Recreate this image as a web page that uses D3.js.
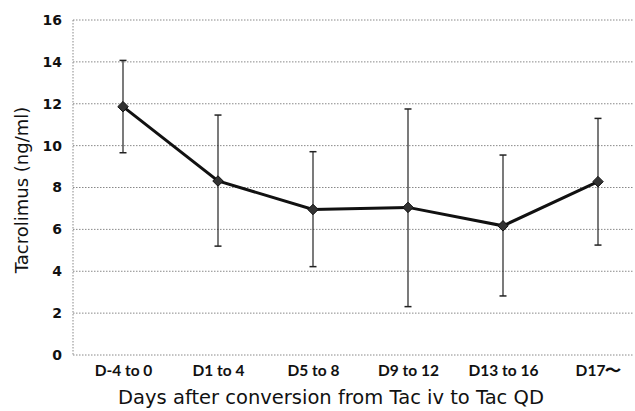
<!DOCTYPE html>
<html>
<head>
<meta charset="utf-8">
<script src="https://cdn.jsdelivr.net/npm/d3@7"></script>
<style>
  body { margin: 0; background: #fff; }
  text { font-family: Lato, "Open Sans", sans-serif; }
</style>
</head>
<body>
<div id="chart"></div>
<script>
// data
var categories = ["D-4 to 0", "D1 to 4", "D5 to 8", "D9 to 12", "D13 to 16", "D17\u301C"];
var means = [11.86, 8.31, 6.95, 7.05, 6.17, 8.28];
var upper = [14.07, 11.46, 9.71, 11.75, 9.55, 11.3];
var lower = [9.66, 5.2, 4.22, 2.31, 2.82, 5.25];
var yTicks = [0, 2, 4, 6, 8, 10, 12, 14, 16];

var W = 635, H = 411;
var margin = {top: 20, right: 0, bottom: 56, left: 73};

var svg = d3.select("#chart")
  .append("svg")
    .attr("width", W)
    .attr("height", H);

var x = d3.scalePoint()
  .domain(categories)
  .range([123, 598]);

var y = d3.scaleLinear()
  .domain([0, 16])
  .range([355, 20]);

// gridlines
svg.append("g")
  .selectAll("line")
  .data(yTicks)
  .enter()
  .append("line")
    .attr("x1", margin.left)
    .attr("x2", W - 2)
    .attr("y1", d => y(d))
    .attr("y2", d => y(d))
    .attr("stroke", "#888")
    .attr("stroke-width", 1)
    .attr("stroke-dasharray", "1.5,1.5");

// left axis line (dotted like the grid)
svg.append("line")
  .attr("x1", margin.left).attr("x2", margin.left)
  .attr("y1", y(16)).attr("y2", y(0))
  .attr("stroke", "#888")
  .attr("stroke-dasharray", "1.5,1.5");

// y tick labels
var yAxis = svg.append("g")
  .attr("transform", "translate(" + margin.left + ",0)")
  .call(d3.axisLeft(y).tickValues(yTicks).tickSize(0).tickPadding(11));
yAxis.select(".domain").remove();
yAxis.selectAll("text")
  .style("font-family", "'DejaVu Sans', sans-serif")
  .style("font-size", "14px")
  .style("font-weight", "bold")
  .attr("fill", "#111");

// x tick labels
var xAxis = svg.append("g")
  .attr("transform", "translate(0," + y(0) + ")")
  .call(d3.axisBottom(x).tickSize(0).tickPadding(10));
xAxis.select(".domain").remove();
xAxis.selectAll("text")
  .style("font-size", "15.5px")
  .style("font-weight", "bold")
  .attr("fill", "#111");

// error bars
var bars = svg.append("g").selectAll("g")
  .data(categories)
  .enter()
  .append("g");
bars.append("line")
  .attr("x1", d => x(d)).attr("x2", d => x(d))
  .attr("y1", (d, i) => y(upper[i]))
  .attr("y2", (d, i) => y(lower[i]))
  .attr("stroke", "#222").attr("stroke-width", 1.2);
bars.append("line")
  .attr("x1", d => x(d) - 3.5).attr("x2", d => x(d) + 3.5)
  .attr("y1", (d, i) => y(upper[i]))
  .attr("y2", (d, i) => y(upper[i]))
  .attr("stroke", "#222").attr("stroke-width", 1.5);
bars.append("line")
  .attr("x1", d => x(d) - 3.5).attr("x2", d => x(d) + 3.5)
  .attr("y1", (d, i) => y(lower[i]))
  .attr("y2", (d, i) => y(lower[i]))
  .attr("stroke", "#222").attr("stroke-width", 1.5);

// mean line
var line = d3.line()
  .x((d, i) => x(categories[i]))
  .y(d => y(d));
svg.append("path")
  .datum(means)
  .attr("d", line)
  .attr("fill", "none")
  .attr("stroke", "#111")
  .attr("stroke-width", 3);

// diamond markers
svg.append("g")
  .selectAll("path")
  .data(means)
  .enter()
  .append("path")
    .attr("transform", (d, i) => "translate(" + x(categories[i]) + "," + y(d) + ")")
    .attr("d", d3.symbol().type(d3.symbolDiamond2).size(70))
    .attr("fill", "#333")
    .attr("stroke", "#111")
    .attr("stroke-width", 1);

// axis titles
svg.append("text")
  .attr("x", 331)
  .attr("y", 404)
  .attr("text-anchor", "middle")
  .style("font-family", "'DejaVu Sans', sans-serif")
  .style("font-size", "19.5px")
  .attr("fill", "#111")
  .text("Days after conversion from  Tac iv to Tac QD");

svg.append("text")
  .attr("transform", "rotate(-90)")
  .attr("x", -190)
  .attr("y", 28)
  .attr("text-anchor", "middle")
  .style("font-family", "'DejaVu Sans', sans-serif")
  .style("font-size", "18px")
  .style("font-weight", "500")
  .attr("fill", "#111")
  .text("Tacrolimus (ng/ml)");
</script>
</body>
</html>
